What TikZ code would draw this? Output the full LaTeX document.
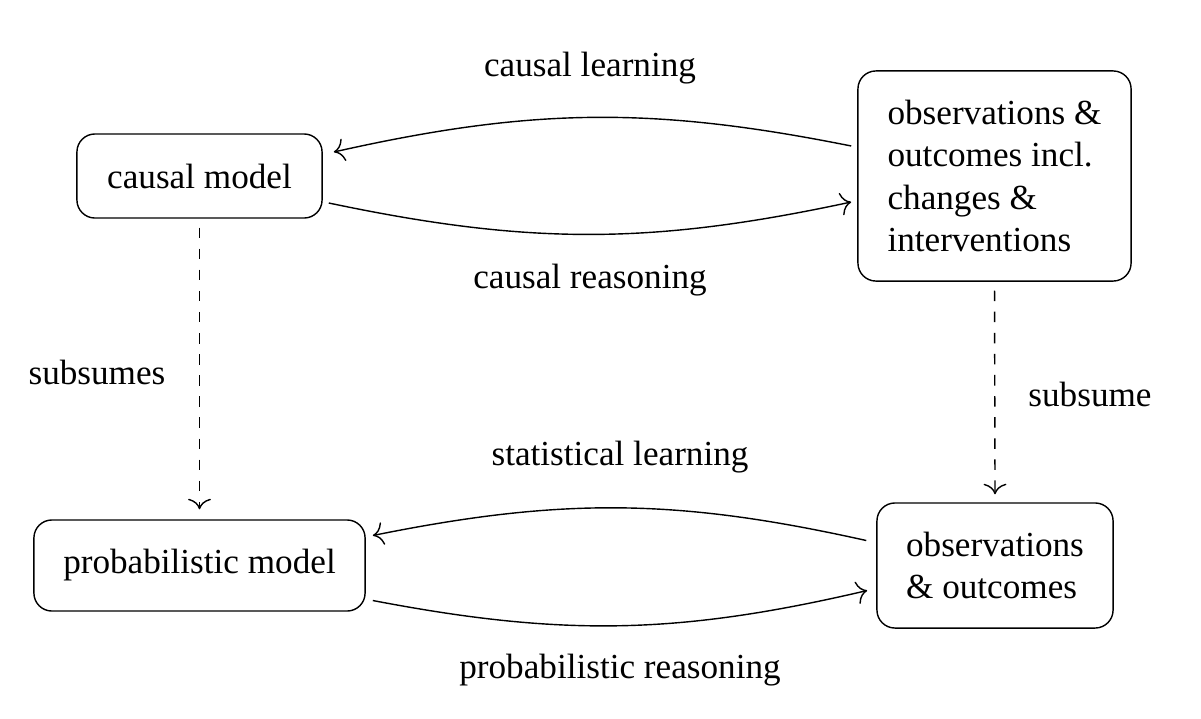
\documentclass[tikz,border=0pt]{standalone}
\usepackage{fontspec}
\setmainfont{Liberation Serif}
\usepackage{tikz}
\usetikzlibrary{arrows.meta,calc}

\begin{document}
\begin{tikzpicture}[x=0.01cm, y=-0.01cm,
    >={Computer Modern Rightarrow[length=3pt,width=6.5pt]},
    box/.style={draw, rounded corners=0.18cm, align=left, inner sep=0pt},
    lbl/.style={inner sep=0pt},
    link/.style={->, bend right=12},
    sub/.style={->, dashed}]
  \useasboundingbox (0,0) rectangle (1201,718);

  % Boxes
  \node[box, minimum width=2.45cm, minimum height=0.84cm] (causal) at (199.5,176) {causal model};
  \node[box, minimum width=2.73cm, minimum height=2.10cm] (obschg) at (994.5,176)
    {observations \&\\outcomes incl.\\changes \&\\interventions};
  \node[box, minimum width=3.31cm, minimum height=0.91cm] (prob) at (199.5,565.5) {probabilistic model};
  \node[box, minimum width=2.36cm, minimum height=1.25cm] (obs) at (995,565.5)
    {observations\\\& outcomes};

  % Causal level
  \draw[link] ([shift={(-6,-30)}]obschg.west) to ([shift={(11,-24)}]causal.east);
  \draw[link] ([shift={(6,27)}]causal.east) to ([shift={(-6,26)}]obschg.west);
  \node[lbl] (clearn) at (590,68) {causal learning};
  \node[lbl] (creason) at (590,280) {causal reasoning};

  % Statistical level
  \draw[link] ([shift={(-10,-25)}]obs.west) to ([shift={(7,-30)}]prob.east);
  \draw[link] ([shift={(7,35)}]prob.east) to ([shift={(-9,25)}]obs.west);
  \node[lbl] (slearn) at (620,457) {statistical learning};
  \node[lbl] (preason) at (620,670) {probabilistic reasoning};

  % Subsumption
  \draw[sub, shorten <=2.5pt] (causal.south) -- ([shift={(0,-10)}]prob.north);
  \draw[sub, shorten <=2.5pt] (obschg.south) -- ([shift={(0,-8)}]obs.north);
  \node[lbl] (subs) at (97,372) {subsumes};
  \node[lbl] (sub) at (1090,394) {subsume};
\end{tikzpicture}
\end{document}
